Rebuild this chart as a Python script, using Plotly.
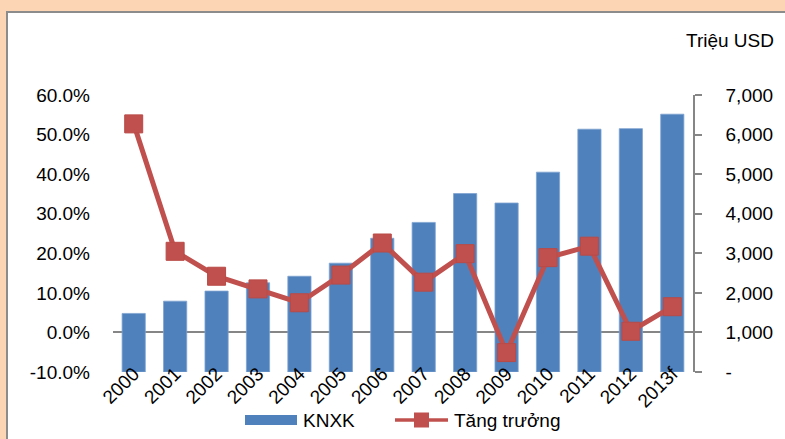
import plotly.graph_objects as go

years = ["2000", "2001", "2002", "2003", "2004", "2005", "2006",
         "2007", "2008", "2009", "2010", "2011", "2012", "2013f"]
knxk = [1480, 1790, 2045, 2255, 2420, 2750, 3380,
        3780, 4510, 4270, 5050, 6136, 6150, 6515]
growth = [0.527, 0.205, 0.142, 0.110, 0.075, 0.145, 0.226,
          0.127, 0.199, -0.051, 0.189, 0.218, 0.003, 0.065]
left_ticks = [-0.1, 0, 0.1, 0.2, 0.3, 0.4, 0.5, 0.6]
left_labels = ["-10.0%", "0.0%", "10.0%", "20.0%", "30.0%", "40.0%", "50.0%", "60.0%"]
right_ticks = [0, 1000, 2000, 3000, 4000, 5000, 6000, 7000]
right_labels = ["-", "1,000", "2,000", "3,000", "4,000", "5,000", "6,000", "7,000"]

BLUE = "#4F81BD"
RED = "#C0504D"
GRAY = "#868686"
FONT = "Arial, Liberation Sans, sans-serif"
FS = 19

W, H = 785, 439
L, R, T, B = 113, 92, 95, 67
PW, PH = W - L - R, H - T - B


def px(x):
    return (x - L) / PW


def py(y):
    return (H - B - y) / PH


fig = go.Figure()

# export value bars on the right-hand (USD) axis
fig.add_trace(go.Bar(
    x=years, y=knxk, name="KNXK", yaxis="y",
    marker=dict(color=BLUE, line=dict(color="#7FA3D0", width=0.8)),
    showlegend=False,
))
# growth line on the left-hand (percent) axis, drawn on top
fig.add_trace(go.Scatter(
    x=years, y=growth, name="Tăng trưởng", yaxis="y2",
    mode="lines+markers",
    line=dict(color=RED, width=5),
    marker=dict(symbol="square", size=18, color=RED,
                line=dict(color="#B94A47", width=1)),
    showlegend=False,
))

shapes = [
    # white panel with grey frame on the beige page
    dict(type="rect", xref="paper", yref="paper",
         x0=px(7), x1=px(W + 20), y0=py(12), y1=py(H + 20),
         fillcolor="white", line=dict(color="#8C8C8C", width=2), layer="below"),
    # legend: bar swatch
    dict(type="rect", xref="paper", yref="paper",
         x0=px(245), x1=px(297), y0=py(425), y1=py(415),
         fillcolor=BLUE, line=dict(width=0)),
    # legend: line swatch
    dict(type="line", xref="paper", yref="paper",
         x0=px(395), x1=px(448), y0=py(420), y1=py(420),
         line=dict(color=RED, width=3.5)),
    dict(type="rect", xref="paper", yref="paper",
         x0=px(414), x1=px(429), y0=py(427.5), y1=py(412.5),
         fillcolor=RED, line=dict(width=0)),
]

annotations = [
    dict(text="Triệu USD", xref="paper", yref="paper",
         x=px(776), y=py(40), xanchor="right", yanchor="middle",
         showarrow=False, font=dict(family=FONT, size=FS, color="black")),
    dict(text="KNXK", xref="paper", yref="paper",
         x=px(301), y=py(420), xanchor="left", yanchor="middle",
         showarrow=False, font=dict(family=FONT, size=FS, color="black")),
    dict(text="Tăng trưởng", xref="paper", yref="paper",
         x=px(452), y=py(420), xanchor="left", yanchor="middle",
         showarrow=False, font=dict(family=FONT, size=FS, color="black")),
]

fig.update_layout(
    width=W, height=H,
    margin=dict(l=L, r=R, t=T, b=B, pad=0),
    paper_bgcolor="#FCD5B5",
    plot_bgcolor="rgba(0,0,0,0)",
    bargap=0.44,
    font=dict(family=FONT, size=FS, color="black"),
    shapes=shapes,
    annotations=annotations,
    xaxis=dict(
        type="category", range=[-0.5, 13.5],
        tickangle=-45, showgrid=False, showline=False, zeroline=False,
        ticks="", ticklabelstandoff=-14, tickfont=dict(size=FS),
    ),
    yaxis=dict(
        range=[0, 7000], side="right",
        tickvals=right_ticks, ticktext=right_labels,
        showgrid=False, zeroline=False,
        showline=True, linecolor=GRAY, linewidth=1.5,
        ticks="outside", ticklen=7, tickcolor=GRAY, tickwidth=1.5,
        ticklabelstandoff=20, tickfont=dict(size=FS),
    ),
    yaxis2=dict(
        range=[-0.1, 0.6], overlaying="y", side="left",
        tickvals=left_ticks, ticktext=left_labels,
        showgrid=False, showline=False,
        zeroline=True, zerolinecolor=GRAY, zerolinewidth=1.5,
        ticks="", ticklabelstandoff=22, tickfont=dict(size=FS),
    ),
)

fig.write_html("out.html")
